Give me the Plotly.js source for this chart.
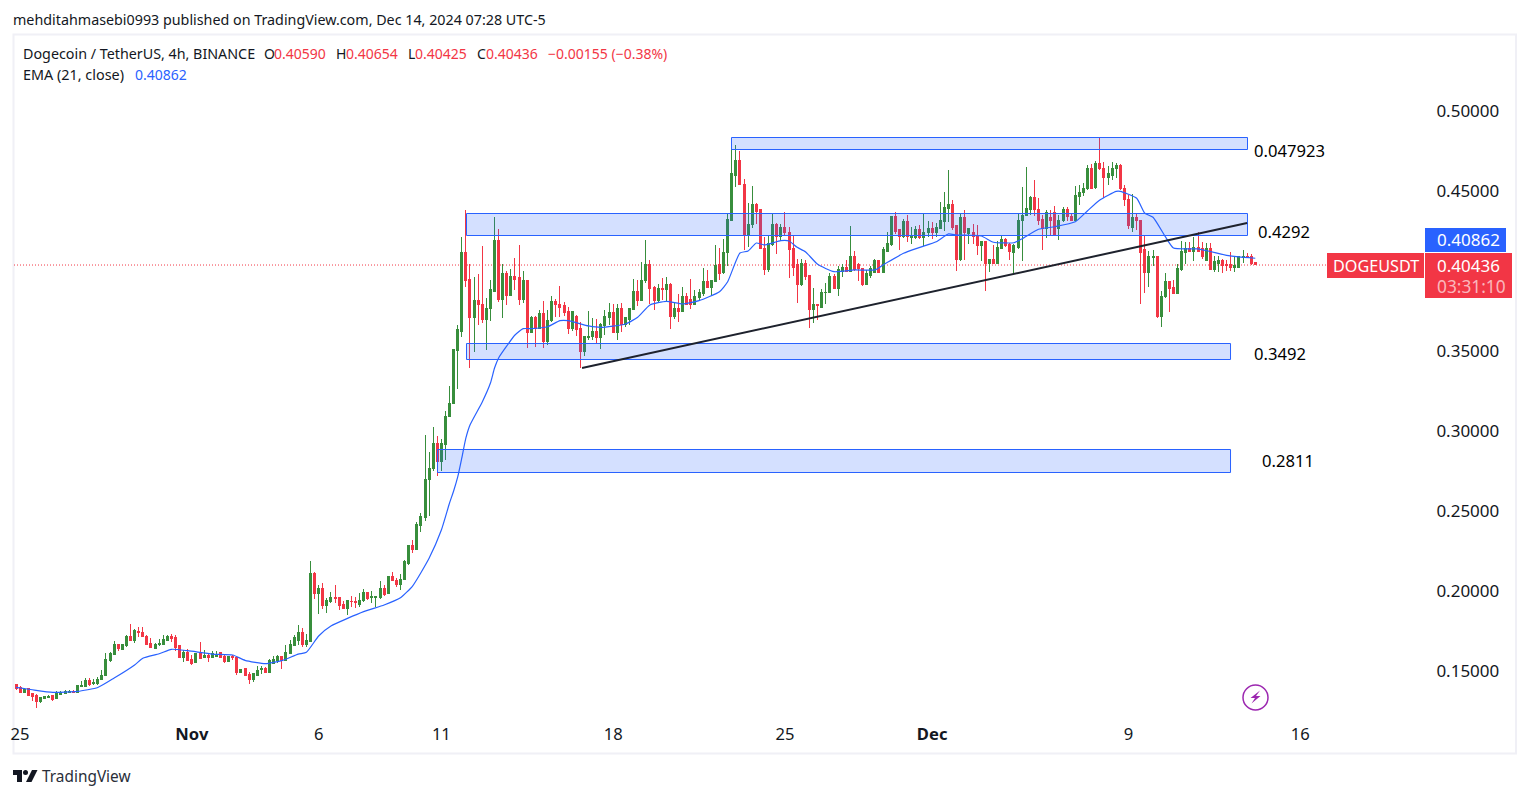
<!DOCTYPE html>
<html>
<head>
<meta charset="utf-8">
<script src="https://cdn.plot.ly/plotly-3.0.1.min.js"></script>
<style>html,body{margin:0;padding:0;background:#fff;overflow:hidden}#chart{width:1529px;height:798px}
#chart .boxes path{shape-rendering:crispEdges}</style>
</head>
<body>
<div id="chart"></div>
<script>
// One letter per 4h candle: G = close above open, R = close below open
const candleDirections =
 "RRGRRRGGGR"+"GGGGRGGGRG"+"GGGGGRGGRG"+"RRRRGGGGRR"+"RGRRGRGRGG"+"RRGRRGRRGG"+"GRGGGRGGGG"+"RGGRGRGGRR"+
 "RGRRGGRGGG"+"RGRRGGGRGG"+"GGGRGGGGGG"+"RRGRRGGGRG"+"RGRRGRGRGR"+"GGRRRRGRRG"+"GGRGGGRGRG"+"GGRGGRRGRG"+
 "RGRGRRGGGR"+"GGRGGGGRRG"+"GRRRGGRGRR"+"RRGRRGRGGG"+"RGGRGRRRGG"+"GRGGGRRGRG"+"GRGGRGGGGR"+"RGRGRRGRGR"+
 "GGRRGGGGGR"+"RRGRRGGRRG"+"GGGRGRRGGG"+"RRRGRRRGGR"+"GGRRGGGRGR"+"RGRGGRRRGG"+"GRRR";
const highs = [
.1425,.1413,.1398,.1398,.1371,.1365,.1344,.1348,.1356,.1356,
.1379,.1379,.1385,.1388,.1385,.1413,.1444,.1460,.1460,.1454,
.1471,.1513,.1619,.1625,.1692,.1677,.1673,.1731,.1800,.1769,
.1779,.1779,.1731,.1710,.1683,.1704,.1729,.1731,.1738,.1729,
.1667,.1638,.1644,.1606,.1617,.1688,.1638,.1617,.1631,.1629,
.1623,.1604,.1600,.1604,.1596,.1521,.1525,.1498,.1496,.1535,
.1535,.1529,.1579,.1600,.1604,.1600,.1669,.1700,.1729,.1794,
.1773,.1738,.2194,.2125,.2044,.2054,.1963,.2000,.2044,.1971,
.1946,.1944,.1975,.1967,.1994,.2019,.2000,.2006,.1977,.2067,
.2044,.2100,.2123,.2085,.2113,.2198,.2294,.2325,.2435,.2494,
.2981,.2875,.3029,.2975,.2956,.3131,.3288,.3519,.3669,.4219,
.4388,.405,.3969,.3988,.4163,.3838,.395,.4344,.4269,.405,
.4006,.4019,.4088,.4169,.4006,.395,.3725,.3725,.3763,.3819,
.3763,.385,.3831,.3913,.3813,.3781,.375,.3731,.3688,.36,
.3756,.3713,.3706,.3681,.3763,.3806,.38,.38,.3806,.3713,
.3775,.3956,.395,.4063,.42,.4075,.3913,.3925,.3963,.3969,
.3931,.3813,.3863,.3906,.3869,.3956,.3888,.3894,.4025,.4013,
.3944,.4169,.415,.4206,.4369,.4838,.4794,.4756,.4581,.4431,
.4538,.4431,.4394,.4219,.4225,.4363,.4306,.43,.4375,.4281,
.4231,.4081,.4081,.4075,.3981,.39,.3794,.3894,.3931,.3994,
.3988,.4038,.405,.4075,.4288,.4131,.4056,.4019,.4013,.4038,
.4081,.4075,.4156,.425,.4344,.4375,.4269,.4331,.4356,.4281,
.4288,.4294,.4369,.4319,.4313,.4306,.4438,.45,.4638,.445,
.4288,.4369,.4388,.4275,.43,.4294,.4194,.4188,.4081,.4169,
.4194,.4225,.4213,.4181,.4175,.4369,.4531,.4656,.4475,.4575,
.4463,.4356,.4388,.4388,.4413,.4356,.4406,.4406,.4369,.4538,
.4544,.4556,.4669,.4675,.4694,.4844,.4688,.4663,.4688,.4681,
.4675,.4544,.4481,.4488,.4369,.4325,.4231,.4131,.4138,.41,
.3881,.3994,.3944,.395,.405,.4194,.4188,.4188,.4219,.425,
.4188,.4181,.4181,.41,.41,.4081,.4075,.4125,.4094,.4094,
.4138,.4119,.4113,.4065];
const bodyTops = [
.1419,.1402,.1392,.1394,.1363,.1356,.1338,.1344,.1350,.1352,
.1363,.1373,.1379,.1381,.1381,.1413,.1413,.1444,.1444,.1435,
.1456,.1481,.1581,.1613,.1675,.1675,.1669,.1725,.1725,.1758,
.1754,.1750,.1723,.1681,.1675,.1681,.1706,.1719,.1719,.1713,
.1663,.1619,.1619,.1579,.1615,.1615,.1604,.1604,.1615,.1602,
.1619,.1596,.1596,.1596,.1592,.1517,.1519,.1485,.1488,.1508,
.1521,.1519,.1569,.1581,.1594,.1594,.1625,.1675,.1717,.1750,
.1750,.1700,.2113,.2113,.2025,.2025,.1950,.1963,.1963,.1965,
.1919,.1944,.1942,.1938,.1950,.2000,.2000,.1969,.1969,.2019,
.2019,.2094,.2094,.2073,.2081,.2188,.2288,.2288,.2419,.2469,
.2706,.2775,.2931,.2931,.2931,.3100,.3181,.3513,.3638,.4119,
.4119,.3956,.3825,.3825,.38,.3775,.3888,.42,.42,.3988,
.3988,.3975,.3975,.3963,.395,.395,.3713,.3713,.3738,.3738,
.37,.3813,.3813,.38,.3788,.3756,.3756,.3725,.3644,.3594,
.36,.3631,.3631,.3669,.3719,.375,.375,.3775,.3775,.3713,
.3769,.3881,.3881,.395,.405,.405,.3906,.39,.39,.3925,
.3925,.3775,.3775,.385,.385,.3831,.3844,.3869,.3938,.3938,
.3944,.4038,.4044,.4125,.4331,.4613,.4694,.4694,.455,.43,
.4419,.4419,.4388,.415,.4181,.43,.43,.4281,.4281,.425,
.4144,.4044,.4056,.4056,.3981,.3794,.3794,.3869,.3875,.3975,
.3975,.4013,.4031,.4031,.4094,.4094,.4044,.4019,.3988,.4019,
.4069,.4069,.4138,.4181,.4344,.4344,.4263,.4313,.4313,.4225,
.4263,.4263,.425,.4269,.4269,.4281,.4319,.4406,.4419,.4419,
.4288,.4338,.4338,.4275,.4244,.4225,.4188,.4188,.4081,.4081,
.4156,.4206,.4206,.4169,.4163,.4325,.4356,.4394,.4463,.4463,
.4388,.4331,.4369,.4338,.4369,.4325,.4388,.4388,.435,.4481,
.45,.4525,.465,.465,.4681,.4681,.465,.4613,.465,.4663,
.4663,.4519,.4456,.4338,.4338,.4319,.4138,.4094,.41,.4094,
.385,.3938,.3938,.3906,.4019,.4131,.415,.415,.4156,.4156,
.4144,.415,.415,.4063,.4075,.4075,.4044,.4044,.4038,.4094,
.41,.41,.4094,.4059];
const bodyBottoms = [
.1396,.1375,.1375,.1356,.1350,.1313,.1313,.1333,.1340,.1331,
.1333,.1358,.1367,.1371,.1369,.1369,.1408,.1408,.1425,.1431,
.1429,.1452,.1477,.1573,.1608,.1646,.1642,.1663,.1694,.1694,
.1744,.1719,.1675,.1652,.1650,.1669,.1675,.1700,.1708,.1656,
.1590,.1588,.1573,.1552,.1558,.1585,.1588,.1590,.1590,.1598,
.1590,.1563,.1565,.1590,.1494,.1496,.1481,.1452,.1452,.1481,
.1513,.1500,.1500,.1554,.1575,.1575,.1573,.1617,.1667,.1700,
.1673,.1673,.1692,.1990,.1988,.1915,.1913,.1942,.1958,.1915,
.1900,.1900,.1938,.1933,.1925,.1944,.1960,.1965,.1965,.1965,
.1985,.1988,.2069,.2048,.2050,.2077,.2181,.2263,.2265,.2415,
.2465,.2702,.2775,.2813,.2815,.2925,.3094,.3177,.3508,.3631,
.395,.3713,.3713,.3794,.3706,.3706,.3769,.3881,.3831,.3831,
.3856,.3856,.3956,.3831,.3831,.3619,.3619,.365,.365,.3563,
.3563,.3694,.3794,.3781,.375,.365,.365,.3638,.3506,.3506,
.3588,.3594,.3588,.3588,.3663,.3713,.3625,.3625,.3669,.3669,
.3706,.3763,.3825,.3825,.3944,.39,.3825,.3825,.3888,.3888,
.3719,.3719,.3756,.3756,.38,.38,.38,.3838,.3863,.3906,
.3906,.3938,.3988,.3994,.4119,.4325,.4606,.4544,.4231,.4231,
.4294,.4381,.4144,.4013,.4013,.4169,.4225,.4225,.4244,.4138,
.4031,.3919,.3919,.3975,.3763,.3763,.3788,.3781,.3869,.3869,
.39,.39,.4006,.4006,.4006,.4013,.4019,.3919,.3919,.3981,
.40,.40,.40,.4131,.4175,.4256,.4219,.4219,.4219,.4213,
.4213,.4213,.4213,.4244,.4244,.4244,.4275,.4313,.44,.4281,
.4081,.4081,.4244,.4238,.4225,.4163,.4163,.4056,.4056,.4056,
.4056,.415,.4163,.4131,.4125,.4156,.4319,.4356,.4388,.4388,
.4319,.4269,.4269,.4325,.4231,.4269,.4319,.4344,.4325,.4325,
.4475,.45,.4519,.4519,.4531,.4644,.4588,.4588,.4606,.4644,
.4519,.4456,.4288,.4281,.4319,.4125,.40,.40,.4088,.3725,
.3725,.3844,.39,.3863,.3863,.4013,.4119,.4131,.4131,.4131,
.41,.4075,.4013,.4013,.4056,.4038,.4038,.4031,.4031,.4031,
.4088,.4094,.4056,.4044];
const lows = [
.1388,.1373,.1367,.1354,.1319,.1277,.1306,.1331,.1335,.1321,
.1333,.1356,.1365,.1367,.1367,.1369,.1406,.1406,.1415,.1421,
.1421,.1450,.1475,.1563,.1606,.1631,.1638,.1658,.1692,.1683,
.1719,.1717,.1671,.1648,.1644,.1663,.1673,.1696,.1690,.1633,
.1588,.1565,.1571,.1544,.1556,.1583,.1585,.1565,.1588,.1594,
.1588,.1556,.1563,.1575,.1483,.1494,.1479,.1427,.1440,.1481,
.1485,.1496,.1492,.1550,.1554,.1519,.1569,.1615,.1663,.1669,
.1656,.1656,.1690,.1956,.1863,.1894,.1869,.1933,.1929,.1890,
.1900,.1858,.1904,.1900,.1908,.1940,.1950,.1933,.1904,.1954,
.1975,.1985,.2069,.2033,.2013,.2075,.2171,.2246,.2263,.2377,
.2446,.2475,.2758,.2727,.2758,.2827,.3092,.3175,.3271,.3594,
.3906,.34,.35,.3669,.3681,.3513,.3694,.3881,.3813,.3713,
.3794,.385,.3888,.3794,.3806,.3525,.3619,.3531,.365,.3525,
.3544,.3688,.3719,.3719,.3725,.3613,.3631,.36,.34,.3475,
.3575,.3575,.355,.3519,.3606,.3669,.3619,.3575,.3625,.3656,
.3669,.3763,.3788,.3825,.3931,.38,.3763,.3813,.3825,.3813,
.3644,.3706,.3688,.3756,.3794,.3769,.3794,.3825,.385,.3906,
.385,.3938,.395,.3988,.4038,.4325,.4531,.4544,.4138,.4156,
.4275,.43,.4144,.3981,.40,.4163,.4113,.4194,.4225,.3963,
.3975,.3806,.3913,.395,.365,.3681,.37,.3781,.38,.3869,
.3894,.385,.3969,.40,.40,.4006,.3944,.3913,.3919,.3963,
.3994,.40,.40,.4125,.4163,.4238,.4138,.4213,.4188,.4175,
.4206,.4206,.4163,.4219,.4206,.4219,.4275,.4256,.4313,.4263,
.4006,.4069,.4075,.4175,.4175,.4106,.4069,.3881,.40,.4056,
.4056,.4144,.4156,.4075,.3994,.4144,.4069,.435,.4356,.435,
.4294,.4138,.4213,.4225,.4225,.42,.4313,.4319,.4319,.4319,
.4419,.4475,.4513,.4519,.4519,.4638,.4463,.4544,.4575,.4588,
.4513,.4413,.4269,.425,.4263,.38,.3869,.3906,.4038,.3713,
.3656,.3838,.375,.3863,.3863,.4006,.405,.4131,.4069,.4131,
.4081,.4069,.4013,.40,.40,.3994,.4006,.4006,.40,.4025,
.4056,.4088,.4044,.4043];

// EMA (21, close) read at candle positions
const emaCandle = [0,4,9,15,20,24,29,31,35,38,42,48,53,56,61,65,69,71,74,77,85,90,94,97,101,104,106,107,108,109,110,111,114,116,117,118,120,122,124,126,130,133,135,140,143,149,152,155,159,163,167,172,174,177,179,181,183,187,189,191,193,196,200,205,210,212,217,221,225,228,230,236,239,244,246,250,254,259,262,265,269,270,274,276,278,281,283,289,296,299,303];
const emaValue = [.1404,.1389,.1373,.1379,.1403,.1462,.1544,.1586,.1614,.1642,.1633,.1612,.1606,.1573,.1552,.1571,.1612,.1623,.1725,.1787,.1877,.1919,.1964,.2039,.2211,.2387,.2556,.2631,.2719,.2838,.2963,.3044,.3188,.3306,.34,.3463,.3538,.3606,.3646,.3646,.3658,.3696,.3696,.3663,.3654,.3675,.3717,.3794,.3817,.38,.3821,.3877,.3939,.4119,.4131,.4181,.4169,.4196,.4194,.4154,.4127,.4048,.4002,.4013,.4013,.4044,.4117,.4154,.4189,.4238,.4231,.4225,.4186,.4183,.4208,.4267,.4283,.4314,.4383,.445,.4504,.4504,.4461,.4367,.4342,.4221,.415,.4144,.4104,.4094,.4086];

// Date axis labels, placed at the candle that opens each day
const timeTickCandles = [1,43,74,104,146,188,224,272,314];
const timeTickLabels = ["25","<b>Nov</b>","6","11","18","25","<b>Dec</b>","9","16"];
const priceTicks = [0.15,0.2,0.25,0.3,0.35,0.4,0.45,0.5];
const priceTickLabels = ["0.15000","0.20000","0.25000","0.30000","0.35000","","0.45000","0.50000"];

// Drawn zones: first candle, last candle, price bottom, price top, label, label candle, label price
const zoneStarts = [174.94,110.15,110.15,103.06];
const zoneEnds = [301.1,301.1,296.95,296.95];
const zoneBottoms = [.47656,.42281,.34531,.27469];
const zoneTops = [.48406,.43656,.35531,.28906];
const zoneLabels = ["0.047923","0.4292","0.3492","0.2811"];
const zoneLabelCandles = [302.4,303.4,302.4,304.4];
const zoneLabelPrices = [.4762,.4256,.3488,.2819];
const trendCandles = [138.4,301];
const trendPrices = [.3400,.4306];
const lastPrice = 0.40436;

const RED="#f23645", GREEN="#388e3c", BLUE="#2962ff", INK="#131722";
const FONT='"Noto Sans", sans-serif';
const L=14,R=1424,T=35,B=720;
const px=x=>(x-L)/(R-L), py=y=>(B-y)/(B-T);

const idx=highs.map((_,i)=>i);
const opens=idx.map(i=>candleDirections[i]==="G"?bodyBottoms[i]:bodyTops[i]);
const closes=idx.map(i=>candleDirections[i]==="G"?bodyTops[i]:bodyBottoms[i]);

const traces=[
 {type:"candlestick",x:idx,open:opens,high:highs,low:lows,close:closes,whiskerwidth:0,hoverinfo:"skip",
  increasing:{line:{color:GREEN,width:1},fillcolor:GREEN},decreasing:{line:{color:RED,width:1},fillcolor:RED},showlegend:false},
 {type:"scatter",mode:"lines",x:emaCandle,y:emaValue,line:{color:BLUE,width:1.2,shape:"spline",smoothing:0.5},hoverinfo:"skip",showlegend:false}
];

function note(text,x,y,size,color,extra){
 return Object.assign({text:text,xref:"paper",yref:"paper",x:px(x),y:py(y),xanchor:"left",yanchor:"middle",showarrow:false,
  font:{family:FONT,size:size,color:color},borderpad:0},extra||{});
}
function box(x0,y0,x1,y1,color){
 return {type:"rect",xref:"paper",yref:"paper",x0:px(x0),x1:px(x1),y0:py(y0),y1:py(y1),fillcolor:color,line:{width:0},layer:"above"};
}
function pathOf(points){
 return "M"+points.map(p=>px(p[0])+" "+py(p[1])).join("L")+"Z";
}

const shapes=[];
shapes.push({type:"rect",xref:"paper",yref:"paper",x0:px(13.5),x1:px(1516),y0:py(34.5),y1:py(753.5),line:{color:"#f0f0f6",width:2},fillcolor:"rgba(0,0,0,0)",layer:"below"});
shapes.push({type:"line",xref:"paper",x0:0,x1:1,yref:"y",y0:lastPrice,y1:lastPrice,line:{color:RED,width:1,dash:"1px,2px"},layer:"below"});
zoneStarts.forEach((s,i)=>shapes.push({type:"rect",xref:"x",yref:"y",x0:s,x1:zoneEnds[i],y0:zoneBottoms[i],y1:zoneTops[i],
  fillcolor:"rgba(41,98,255,0.2)",line:{color:BLUE,width:1},layer:"above"}));
shapes.push({type:"line",xref:"x",yref:"y",x0:trendCandles[0],x1:trendCandles[1],y0:trendPrices[0],y1:trendPrices[1],line:{color:"#1e222d",width:2},layer:"above"});
// price tags
shapes.push(box(1425,228,1506,252,BLUE));
shapes.push(box(1327,253,1424,278,RED));
shapes.push(box(1425,253,1512,298,RED));
// bolt badge
shapes.push({type:"circle",xref:"paper",yref:"paper",x0:px(1243),x1:px(1268),y0:py(685),y1:py(710),line:{color:"#9c27b0",width:1.5},layer:"above"});
shapes.push({type:"path",xref:"paper",yref:"paper",path:pathOf([[1260,690.5],[1250.5,698],[1255,698],[1251.5,703.5],[1260.5,696],[1256,696]]),fillcolor:"#9c27b0",line:{width:0},layer:"above"});
// logo
shapes.push({type:"path",xref:"paper",yref:"paper",path:pathOf([[13,770],[22,770],[22,782],[17,782],[17,775],[13,775]]),fillcolor:INK,line:{width:0},layer:"above"});
shapes.push({type:"circle",xref:"paper",yref:"paper",x0:px(23),x1:px(28),y0:py(770),y1:py(775),fillcolor:INK,line:{width:0},layer:"above"});
shapes.push({type:"path",xref:"paper",yref:"paper",path:pathOf([[32,770],[37.5,770],[31.5,782],[26,782]]),fillcolor:INK,line:{width:0},layer:"above"});

const annotations=[
 note("mehditahmasebi0993 published on TradingView.com, Dec 14, 2024 07:28 UTC-5",12,20,14.3,INK),
 note("Dogecoin / TetherUS, 4h, BINANCE",22,53.6,14.3,INK),
 note("O",263,53.6,14,INK),note("0.40590",273,53.6,14,RED),
 note("H",335,53.6,14,INK),note("0.40654",345,53.6,14,RED),
 note("L",407,53.6,14,INK),note("0.40425",414,53.6,14,RED),
 note("C",476,53.6,14,INK),note("0.40436",485,53.6,14,RED),
 note("−0.00155 (−0.38%)",547,53.6,14,RED),
 note("EMA (21, close)",22,74,14.4,INK),note("0.40862",134,74,14,BLUE),
 note("0.40862",1436,240,17,"#ffffff"),
 note("DOGEUSDT",1332,265.5,16.2,"#ffffff"),
 note("0.40436",1436,265,17,"#ffffff"),
 note("03:31:10",1436,286,17.3,"rgba(255,255,255,0.65)"),
 note("TradingView",41,776,15.4,"#2a2e39"),
];
zoneLabels.forEach((t,i)=>annotations.push({text:t,xref:"x",yref:"y",x:zoneLabelCandles[i],y:zoneLabelPrices[i],xanchor:"left",yanchor:"middle",
  showarrow:false,font:{family:FONT,size:16.6,color:"#000"},borderpad:0}));

const layout={
 width:1529,height:798,autosize:false,paper_bgcolor:"#fff",plot_bgcolor:"#fff",
 margin:{l:L,r:1529-R,t:T,b:798-B,pad:0},showlegend:false,boxgap:0.3,dragmode:false,
 font:{family:FONT,color:INK},
 xaxis:{type:"linear",range:[(L-16)/4.09,(R-16)/4.09],tickmode:"array",tickvals:timeTickCandles,ticktext:timeTickLabels,
  showgrid:false,zeroline:false,showline:false,ticks:"",ticklabelstandoff:2,tickfont:{family:FONT,size:16.6,color:INK},
  rangeslider:{visible:false},tickangle:0},
 yaxis:{type:"linear",side:"right",range:[0.12,0.548125],tickmode:"array",tickvals:priceTicks,ticktext:priceTickLabels,
  showgrid:false,zeroline:false,showline:false,ticks:"outside",ticklen:8,tickcolor:"rgba(0,0,0,0)",tickfont:{family:FONT,size:17,color:INK},
  ticklabelshift:-1},
 shapes:shapes,annotations:annotations
};
Plotly.newPlot("chart",traces,layout,{displayModeBar:false,staticPlot:true});
</script>
</body>
</html>
